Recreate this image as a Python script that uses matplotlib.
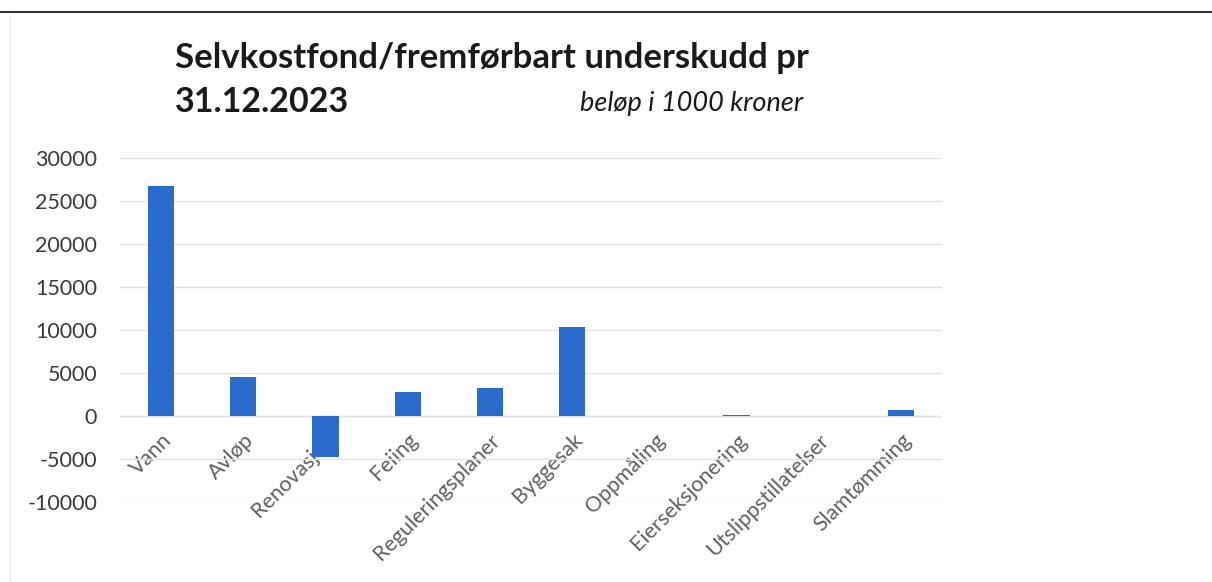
import numpy as np
import matplotlib.pyplot as plt
import matplotlib as mpl

### Data (beløp i 1000 kroner)

categories = ['Vann', 'Avløp', 'Renovasjon', 'Feiing', 'Reguleringsplaner',
              'Byggesak', 'Oppmåling', 'Eierseksjonering', 'Utslippstillatelser',
              'Slamtømming']
values = [26700, 4500, -4800, 2800, 3200, 10300, 0, 100, 0, 700]
yticks = [-10000, -5000, 0, 5000, 10000, 15000, 20000, 25000, 30000]

bar_color = '#2A6BCB'
label_color = '#5f5f5f'

mpl.rcParams.update({
    'font.family': ['Lato', 'DejaVu Sans'],
    'font.size': 15,
})

fig = plt.figure(figsize=(12.12, 5.82), dpi=100)
ax = fig.add_axes([120 / 1212, 80 / 582, 822 / 1212, 344 / 582])

x = np.arange(len(categories))
ax.bar(x, values, width=0.32, color=bar_color, zorder=3)

ax.set_xlim(-0.5, len(categories) - 0.5)
ax.set_ylim(-10000, 30000)
ax.set_yticks(yticks)
ax.set_yticklabels([str(v) for v in yticks], color='#3a3a3a', fontsize=15.5)
ax.yaxis.grid(True, color='#e3e3e3', lw=1, zorder=0)
ax.axhline(0, color='#d9d9d9', lw=1, zorder=1)

ax.set_xticks(x)
ax.set_xticklabels(categories, rotation=45, ha='right', rotation_mode='anchor',
                   color=label_color, fontsize=15.5)
ax.tick_params(axis='both', length=0)
ax.tick_params(axis='y', pad=16.5)
# labels hang just below the zero line like in Excel
for lbl in ax.get_xticklabels():
    lbl.set_y(0.224)

for s in ax.spines.values():
    s.set_visible(False)

fig.text(175 / 1212, 1 - 58 / 582, 'Selvkostfond/fremførbart underskudd pr',
         fontsize=25, fontweight='bold', color='#1a1a1a', va='center')
fig.text(175 / 1212, 1 - 102 / 582, '31.12.2023',
         fontsize=24.5, fontweight='bold', color='#1a1a1a', va='center')
fig.text(580 / 1212, 1 - 104 / 582, 'beløp i 1000 kroner',
         fontsize=19.5, style='italic', color='#1a1a1a', va='center')

# scan border lines
fig.add_artist(plt.Line2D([0, 1], [1 - 12 / 582, 1 - 12 / 582], color='#333333', lw=1.5))
fig.add_artist(plt.Line2D([10 / 1212, 10 / 1212], [0, 1 - 14 / 582], color='#eeeeee', lw=1))

fig.savefig('out.png', dpi=100)
